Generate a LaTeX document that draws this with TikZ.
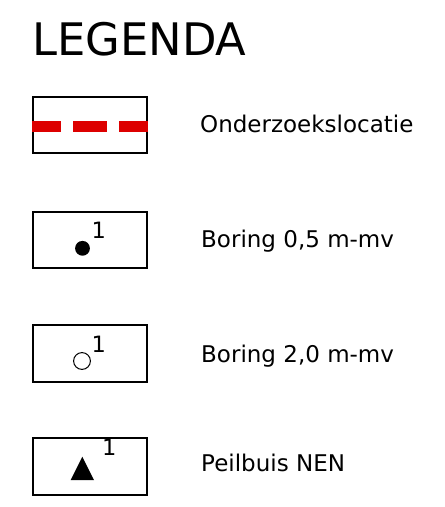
\documentclass[tikz,border=0pt]{standalone}
\usepackage{fontspec}
\setmainfont{DejaVu Sans}
\definecolor{dashred}{RGB}{221,0,0}
\begin{document}
\begin{tikzpicture}[x=1pt,y=-1pt,
  legbox/.style={draw=black,line width=2.1pt},
  lab/.style={anchor=base west,inner sep=0pt,font=\fontsize{23}{26}\selectfont},
  sup/.style={anchor=base west,inner sep=0pt,font=\fontsize{22.5}{26}\selectfont}]
\useasboundingbox (0,0) rectangle (445,507);
\node[anchor=base west,inner sep=0pt,font=\fontsize{44.8}{50}\selectfont] (title) at (32,55) {LEGENDA};
% box 1
\draw[legbox] (33,97.3) rectangle (147,153.3);
\fill[dashred] (31.7,121) rectangle (60.7,131.7);
\fill[dashred] (73.3,121) rectangle (106.7,131.7);
\fill[dashred] (119,121) rectangle (148.3,131.7);
\node[lab] (l1) at (200,132) {Onderzoekslocatie};
% box 2
\draw[legbox] (33,211.7) rectangle (147,268.3);
\fill (82.5,248.3) circle (7.4);
\node[sup] (s2) at (91.5,238.5) {1};
\node[lab] (l2) at (201,247) {Boring 0,5 m-mv};
% box 3
\draw[legbox] (33,325) rectangle (147,381.7);
\draw[line width=1pt] (82,361) circle (8.4);
\node[sup] (s3) at (91.5,352.5) {1};
\node[lab] (l3) at (201,362) {Boring 2,0 m-mv};
% box 4
\draw[legbox] (33,438) rectangle (147,495);
\fill (70.7,480) -- (82.3,456.7) -- (94,480) -- cycle;
\node[sup] (s4) at (102,455.5) {1};
\node[lab] (l4) at (201,471) {Peilbuis NEN};
\end{tikzpicture}
\end{document}
